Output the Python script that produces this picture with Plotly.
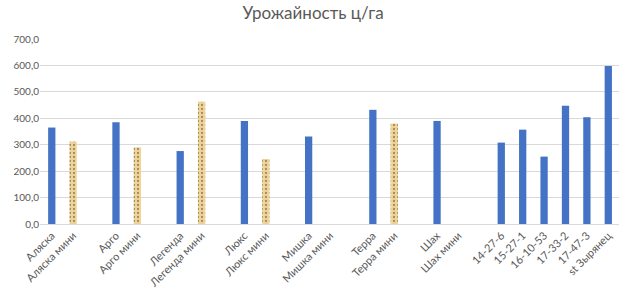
import plotly.graph_objects as go

categories = ["Аляска", "Аляска мини", "", "Арго", "Арго мини", "", "Легенда", "Легенда мини", "",
              "Люкс", "Люкс мини", "", "Мишка", "Мишка мини", "", "Терра", "Терра мини", "",
              "Шах", "Шах мини", "", "14-27-6", "15-27-1", "16-10-53", "17-33-2", "17-47-3", "st Зырянец"]
values = [365, 312, None, 385, 290, None, 276, 463, None,
          390, 246, None, 331, 0, None, 432, 380, None,
          390, 0, None, 308, 357, 255, 447, 404, 598]
is_mini = [c.endswith("мини") for c in categories]
y_ticks = [0, 100, 200, 300, 400, 500, 600, 700]
y_tick_labels = [f"{v},0" for v in y_ticks]

x = list(range(len(categories)))
colors = ["#F2D595" if m else "#4472C4" for m in is_mini]
shapes = ["." if m else "" for m in is_mini]

fig = go.Figure(go.Bar(
    x=x, y=values,
    marker=dict(color=colors, line=dict(width=0),
                pattern=dict(shape=shapes, fgcolor="#E8C581", bgcolor="#F3DAA2", size=4, solidity=0.25)),
))

fig.update_layout(
    width=626, height=300,
    margin=dict(l=40, r=7, t=39, b=76),
    paper_bgcolor="white", plot_bgcolor="white",
    title=dict(text="Урожайность ц/га", x=0.5, xanchor="center", y=0.955, yanchor="middle",
               font=dict(family="Lato", size=17, color="#595959"), automargin=False),
    font=dict(family="Lato", size=10, color="#595959"),
    bargap=0.66,
    showlegend=False,
)
fig.update_xaxes(tickmode="array", tickvals=x, ticktext=categories, tickangle=-45,
                 range=[-0.55, len(categories) - 0.5], showgrid=False, automargin=False,
                 showline=True, linecolor="#D9D9D9", ticks="", tickfont=dict(family="Lato", size=11, color="#595959"))
fig.update_yaxes(range=[0, 700], tickvals=y_ticks, ticktext=y_tick_labels, showgrid=True,
                 gridcolor="#D9D9D9", zeroline=False, showline=False, ticks="", automargin=False,
                 tickfont=dict(family="Lato", size=10, color="#595959"))

fig.write_html("out.html", config={"displayModeBar": False},
               post_script="document.body.style.margin='0';document.body.style.overflow='hidden';")
